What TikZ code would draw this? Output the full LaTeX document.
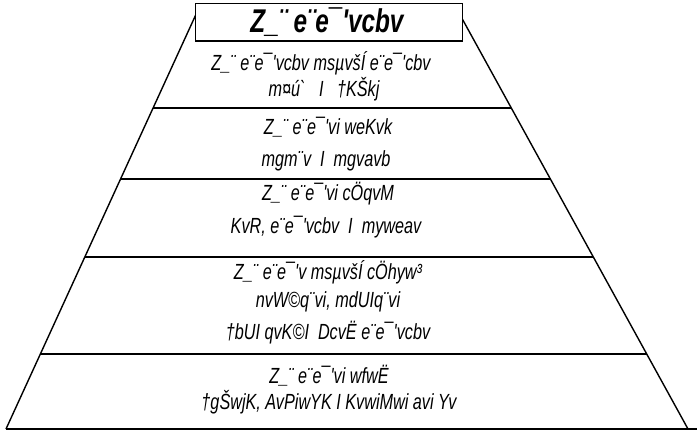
\documentclass[tikz,border=0pt]{standalone}
\usepackage{fontspec}
\newfontfamily\mjfont{Liberation Sans}[FakeStretch=0.74]
\usepackage{tikz}

\begin{document}
\begin{tikzpicture}[x=1bp, y=-1bp,
  edge/.style={line width=1.4bp},
  txt/.style={font=\mjfont\itshape\fontsize{22}{24}\selectfont, inner sep=0pt, anchor=center},
  head/.style={font=\mjfont\itshape\bfseries\fontsize{33}{34}\selectfont, inner sep=0pt, anchor=center}]
  \useasboundingbox (0,0) rectangle (698,434);
  % corners of the pyramid
  \coordinate (tl) at (195.7,15);
  \coordinate (tr) at (462.3,19);
  \coordinate (bl) at (6,429);
  \coordinate (br) at (688,429);
  \draw[edge] (tl) -- (bl);
  \draw[edge] (tr) -- (br);
  % tier borders
  \draw[edge] (153.1,108) -- (511.3,108);
  \draw[edge] (120.6,179) -- (550.4,179);
  \draw[edge] (84.9,257)  -- (593.3,257);
  \draw[edge] (40.4,354)  -- (646.7,354);
  \draw[edge] (bl) -- (697,429);
  % title box
  \draw[edge, fill=white] (195.7,3.3) rectangle (462.3,41);
  \node[head] (title) at (327,22) {Z\_¨ e¨e¯'vcbv};
  % tier texts
  \node[txt] (t1a) at (321,63)  {Z\_¨ e¨e¯'vcbv msµvšÍ e¨e¯'cbv};
  \node[txt] (t1b) at (324,89)  {m¤ú`\ \ \ I\ \ \ †KŠkj};
  \node[txt] (t2a) at (328,127) {Z\_¨ e¨e¯'vi weKvk};
  \node[txt] (t2b) at (326,161) {mgm¨v\ \ I\ \ mgvavb};
  \node[txt] (t3a) at (328,194) {Z\_¨ e¨e¯'vi cÖqvM};
  \node[txt] (t3b) at (326,227) {KvR, e¨e¯'vcbv\ \ I\ \ myweav};
  \node[txt] (t4a) at (328,272) {Z\_¨ e¨e¯'v msµvšÍ cÖhyw³};
  \node[txt] (t4b) at (328,302) {nvW©q¨vi, mdUIq¨vi};
  \node[txt] (t4c) at (328,333) {†bUI qvK©I\ \ DcvË e¨e¯'vcbv};
  \node[txt] (t5a) at (329,376) {Z\_¨ e¨e¯'vi wfwË};
  \node[txt] (t5b) at (329,402) {†gŠwjK, AvPiwYK I KvwiMwi avi Yv};
\end{tikzpicture}
\end{document}
